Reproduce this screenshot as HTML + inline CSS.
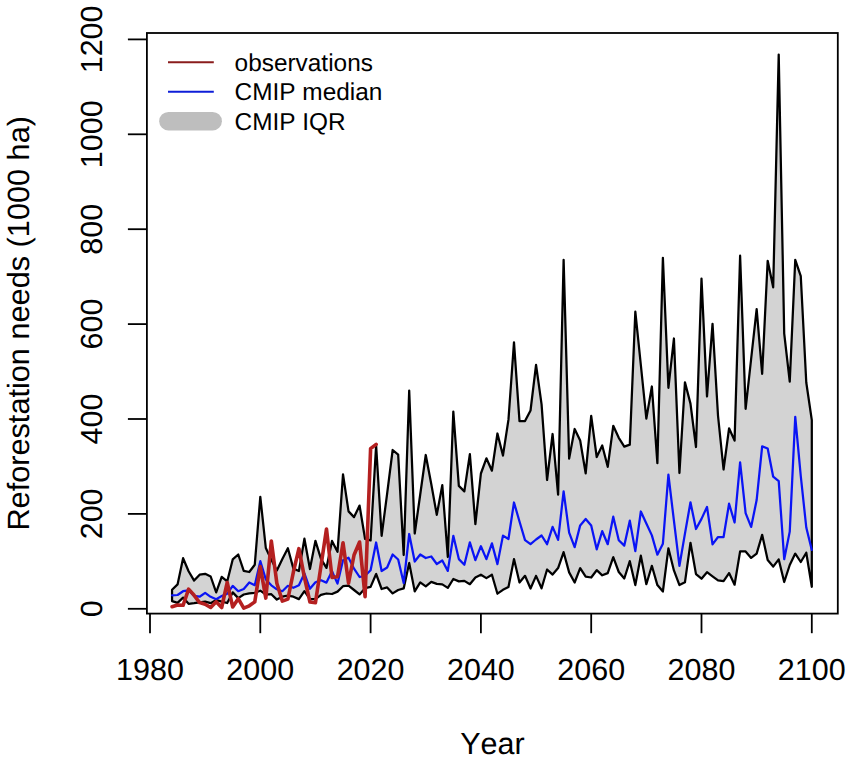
<!DOCTYPE html>
<html><head><meta charset="utf-8"><style>
html,body{margin:0;padding:0;background:#fff;width:851px;height:761px;overflow:hidden}
svg{display:block;font-family:"Liberation Sans",sans-serif;font-kerning:none;text-rendering:geometricPrecision}
</style></head><body>
<svg width="851" height="761" viewBox="0 0 851 761">
<polygon points="172.06,589.7 177.57,584.4 183.09,558.2 188.60,571.2 194.12,580.6 199.63,574.7 205.15,573.8 210.66,576.5 216.18,592.4 221.69,576.9 227.21,581.4 232.72,559.4 238.24,554.5 243.75,570.8 249.27,572.0 254.78,564.7 260.30,496.8 265.81,548.0 271.33,559.7 276.85,570.5 282.36,559.0 287.88,548.2 293.39,568.6 298.90,571.0 304.42,538.7 309.94,569.0 315.45,540.8 320.97,558.9 326.48,567.9 332.00,540.9 337.51,551.8 343.02,474.4 348.54,511.4 354.05,517.1 359.57,505.6 365.08,539.0 370.60,540.4 376.12,445.5 381.63,535.8 387.14,493.6 392.66,450.0 398.17,454.6 403.69,555.0 409.20,390.6 414.72,533.5 420.23,494.5 425.75,455.0 431.26,484.0 436.78,514.8 442.29,485.2 447.81,557.0 453.32,411.6 458.84,485.9 464.35,491.4 469.87,454.2 475.38,524.2 480.90,473.5 486.41,458.3 491.93,470.7 497.44,433.5 502.96,455.6 508.47,419.7 513.99,342.4 519.50,421.1 525.02,421.1 530.53,410.5 536.05,364.8 541.57,404.4 547.08,480.0 552.60,434.0 558.11,494.7 563.62,259.9 569.14,458.6 574.65,429.0 580.17,440.5 585.68,473.4 591.20,415.9 596.71,457.0 602.23,445.5 607.74,466.8 613.26,425.8 618.77,437.8 624.29,446.6 629.80,444.6 635.32,311.7 640.84,365.0 646.35,418.6 651.87,386.5 657.38,463.2 662.89,257.8 668.41,387.8 673.92,338.5 679.44,473.0 684.95,382.3 690.47,403.6 695.99,447.0 701.50,278.6 707.01,396.5 712.53,323.8 718.04,416.0 723.56,469.5 729.07,428.3 734.59,440.6 740.11,255.7 745.62,408.8 751.13,359.0 756.65,309.2 762.16,373.8 767.68,260.8 773.19,287.3 778.71,54.6 784.22,333.6 789.74,381.7 795.25,259.9 800.77,276.2 806.28,382.5 811.80,420.2 811.80,586.8 806.28,552.7 800.77,562.0 795.25,553.6 789.74,565.0 784.22,582.0 778.71,559.4 773.19,566.6 767.68,560.1 762.16,534.8 756.65,553.6 751.13,557.9 745.62,551.4 740.11,551.4 734.59,584.7 729.07,573.1 723.56,581.1 718.04,580.4 712.53,576.3 707.01,572.2 701.50,578.7 695.99,574.1 690.47,542.8 684.95,582.3 679.44,585.1 673.92,570.4 668.41,548.3 662.89,591.5 657.38,585.1 651.87,565.8 646.35,584.2 640.84,555.7 635.32,585.1 629.80,561.2 624.29,578.5 618.77,572.0 613.26,557.2 607.74,573.1 602.23,575.3 596.71,570.2 591.20,577.5 585.68,576.7 580.17,568.1 574.65,582.5 569.14,572.4 563.62,552.2 558.11,568.1 552.60,574.6 547.08,569.5 541.57,588.3 536.05,575.9 530.53,588.5 525.02,575.8 519.50,582.5 513.99,559.1 508.47,587.0 502.96,589.8 497.44,593.7 491.93,574.7 486.41,578.1 480.90,574.7 475.38,577.5 469.87,584.2 464.35,580.9 458.84,581.4 453.32,579.0 447.81,587.9 442.29,584.4 436.78,583.9 431.26,581.9 425.75,586.4 420.23,582.4 414.72,591.4 409.20,563.0 403.69,588.4 398.17,590.0 392.66,593.4 387.14,587.4 381.63,589.0 376.12,574.0 370.60,586.9 365.08,588.2 359.57,594.4 354.05,590.0 348.54,585.6 343.02,586.2 337.51,591.6 332.00,594.0 326.48,593.5 320.97,594.9 315.45,599.1 309.94,599.1 304.42,591.2 298.90,599.1 293.39,596.7 287.88,595.7 282.36,596.7 276.85,599.6 271.33,594.2 265.81,594.7 260.30,590.7 254.78,592.8 249.27,593.3 243.75,594.5 238.24,598.1 232.72,592.4 227.21,603.0 221.69,601.6 216.18,600.1 210.66,603.2 205.15,601.6 199.63,602.3 194.12,603.2 188.60,603.8 183.09,597.6 177.57,602.9 172.06,601.1" fill="#D3D3D3" stroke="#000" stroke-width="2.25" stroke-linejoin="round"/>
<polyline points="172.06,595.3 177.57,595.0 183.09,591.2 188.60,590.3 194.12,595.9 199.63,596.7 205.15,592.9 210.66,596.8 216.18,599.2 221.69,596.1 227.21,593.7 232.72,585.9 238.24,591.2 243.75,589.0 249.27,582.5 254.78,585.2 260.30,561.2 265.81,579.4 271.33,585.3 276.85,589.3 282.36,591.2 287.88,585.8 293.39,587.8 298.90,585.3 304.42,573.5 309.94,588.8 315.45,582.2 320.97,580.2 326.48,582.6 332.00,571.2 337.51,583.6 343.02,560.3 348.54,557.7 354.05,568.7 359.57,577.0 365.08,575.8 370.60,570.3 376.12,542.5 381.63,571.0 387.14,567.5 392.66,554.5 398.17,559.5 403.69,583.0 409.20,534.0 414.72,561.5 420.23,554.5 425.75,558.0 431.26,556.5 436.78,564.0 442.29,560.5 447.81,570.9 453.32,535.8 458.84,559.1 464.35,564.7 469.87,542.3 475.38,560.2 480.90,546.2 486.41,559.1 491.93,543.4 497.44,564.1 502.96,535.6 508.47,539.0 513.99,502.5 519.50,521.5 525.02,540.1 530.53,544.1 536.05,539.5 541.57,535.5 547.08,544.2 552.60,526.9 558.11,539.9 563.62,491.4 569.14,532.6 574.65,547.1 580.17,525.4 585.68,518.9 591.20,525.4 596.71,549.3 602.23,531.2 607.74,544.2 613.26,516.7 618.77,540.2 624.29,545.6 629.80,520.7 635.32,551.1 640.84,511.5 646.35,523.5 651.87,535.4 657.38,554.7 662.89,543.7 668.41,474.7 673.92,520.7 679.44,565.8 684.95,533.6 690.47,502.3 695.99,529.0 701.50,518.9 707.01,506.9 712.53,544.4 718.04,537.0 723.56,537.0 729.07,503.7 734.59,522.5 740.11,462.3 745.62,513.1 751.13,526.9 756.65,500.1 762.16,446.4 767.68,448.5 773.19,476.7 778.71,481.1 784.22,559.2 789.74,531.6 795.25,416.9 800.77,476.0 806.28,527.5 811.80,549.9" fill="none" stroke="#0A14F5" stroke-width="2.25" stroke-linejoin="round" stroke-linecap="round"/>
<polyline points="172.06,606.7 177.57,605.0 183.09,605.3 188.60,589.1 194.12,595.3 199.63,602.6 205.15,604.2 210.66,607.5 216.18,601.7 221.69,607.5 227.21,582.5 232.72,607.0 238.24,598.7 243.75,608.2 249.27,605.8 254.78,601.9 260.30,566.6 265.81,598.1 271.33,541.0 276.85,583.3 282.36,601.1 287.88,599.1 293.39,572.0 298.90,548.7 304.42,577.4 309.94,602.0 315.45,602.7 320.97,566.0 326.48,529.0 332.00,577.4 337.51,576.8 343.02,542.8 348.54,583.1 354.05,555.0 359.57,542.0 365.08,596.6 370.60,448.6 376.12,444.3" fill="none" stroke="#B42020" stroke-width="3.6" stroke-linejoin="round" stroke-linecap="round"/>
<rect x="146.9" y="33.0" width="690.9" height="580.6" fill="none" stroke="#000" stroke-width="1.8"/>
<line x1="127.9" y1="608.80" x2="146.9" y2="608.80" stroke="#000" stroke-width="1.8"/>
<text transform="translate(102.1,608.80) rotate(-90)" text-anchor="middle" font-size="30.5">0</text>
<line x1="127.9" y1="513.90" x2="146.9" y2="513.90" stroke="#000" stroke-width="1.8"/>
<text transform="translate(102.1,513.90) rotate(-90)" text-anchor="middle" font-size="30.5">200</text>
<line x1="127.9" y1="419.00" x2="146.9" y2="419.00" stroke="#000" stroke-width="1.8"/>
<text transform="translate(102.1,419.00) rotate(-90)" text-anchor="middle" font-size="30.5">400</text>
<line x1="127.9" y1="324.10" x2="146.9" y2="324.10" stroke="#000" stroke-width="1.8"/>
<text transform="translate(102.1,324.10) rotate(-90)" text-anchor="middle" font-size="30.5">600</text>
<line x1="127.9" y1="229.20" x2="146.9" y2="229.20" stroke="#000" stroke-width="1.8"/>
<text transform="translate(102.1,229.20) rotate(-90)" text-anchor="middle" font-size="30.5">800</text>
<line x1="127.9" y1="134.30" x2="146.9" y2="134.30" stroke="#000" stroke-width="1.8"/>
<text transform="translate(102.1,134.30) rotate(-90)" text-anchor="middle" font-size="30.5">1000</text>
<line x1="127.9" y1="39.40" x2="146.9" y2="39.40" stroke="#000" stroke-width="1.8"/>
<text transform="translate(102.1,39.40) rotate(-90)" text-anchor="middle" font-size="30.5">1200</text>
<line x1="150.00" y1="613.6" x2="150.00" y2="633.2" stroke="#000" stroke-width="1.8"/>
<text x="150.00" y="680.3" text-anchor="middle" font-size="30.5">1980</text>
<line x1="260.30" y1="613.6" x2="260.30" y2="633.2" stroke="#000" stroke-width="1.8"/>
<text x="260.30" y="680.3" text-anchor="middle" font-size="30.5">2000</text>
<line x1="370.60" y1="613.6" x2="370.60" y2="633.2" stroke="#000" stroke-width="1.8"/>
<text x="370.60" y="680.3" text-anchor="middle" font-size="30.5">2020</text>
<line x1="480.90" y1="613.6" x2="480.90" y2="633.2" stroke="#000" stroke-width="1.8"/>
<text x="480.90" y="680.3" text-anchor="middle" font-size="30.5">2040</text>
<line x1="591.20" y1="613.6" x2="591.20" y2="633.2" stroke="#000" stroke-width="1.8"/>
<text x="591.20" y="680.3" text-anchor="middle" font-size="30.5">2060</text>
<line x1="701.50" y1="613.6" x2="701.50" y2="633.2" stroke="#000" stroke-width="1.8"/>
<text x="701.50" y="680.3" text-anchor="middle" font-size="30.5">2080</text>
<line x1="811.80" y1="613.6" x2="811.80" y2="633.2" stroke="#000" stroke-width="1.8"/>
<text x="811.80" y="680.3" text-anchor="middle" font-size="30.5">2100</text>
<text x="492.35" y="754.1" text-anchor="middle" font-size="30.5">Year</text>
<text transform="translate(28.6,323.30) rotate(-90)" text-anchor="middle" font-size="30.7">Reforestation needs (1000 ha)</text>
<line x1="168" y1="62.3" x2="213.8" y2="62.3" stroke="#8A1C1C" stroke-width="1.9"/>
<line x1="168" y1="91.7" x2="213.8" y2="91.7" stroke="#0E1ED8" stroke-width="1.9"/>
<line x1="168.5" y1="121.2" x2="212.6" y2="121.2" stroke="#BEBEBE" stroke-width="18.6" stroke-linecap="round"/>
<text x="234.6" y="70.90" font-size="24.4">observations</text>
<text x="234.6" y="100.35" font-size="24.4">CMIP median</text>
<text x="234.6" y="129.80" font-size="24.4">CMIP IQR</text>
</svg>
</body></html>
